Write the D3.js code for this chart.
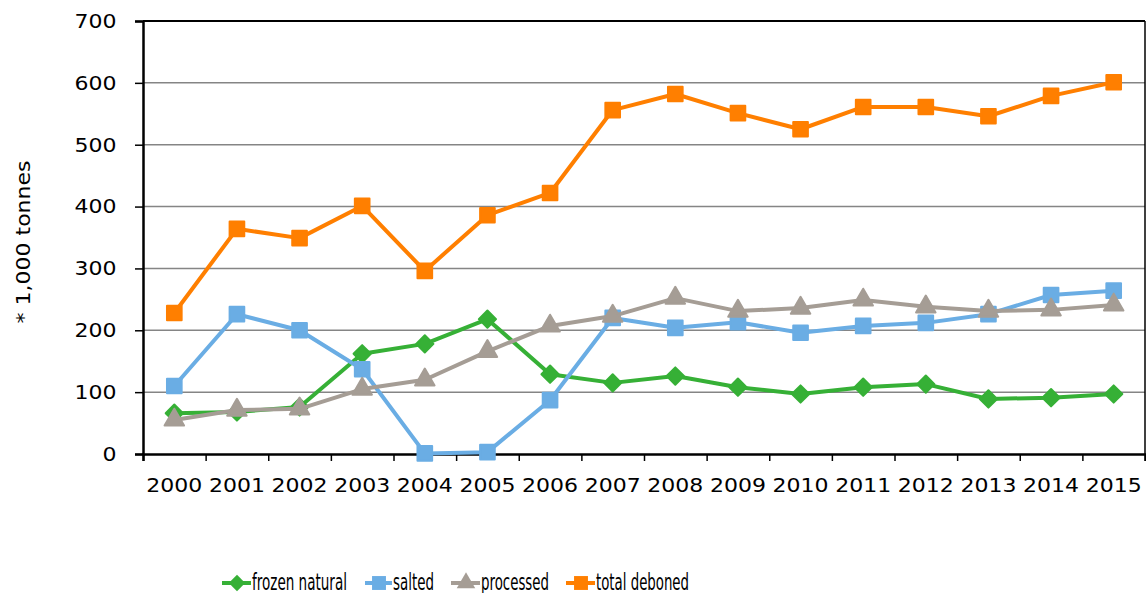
<!DOCTYPE html>
<html>
<head>
<meta charset="utf-8">
<script src="https://cdn.jsdelivr.net/npm/d3@7"></script>
<style>
  body { margin: 0; background: #fff; }
  svg { display: block; font-family: "DejaVu Sans", Verdana, sans-serif; }
</style>
</head>
<body>
<svg id="chart" width="1146" height="593"></svg>
<script>
// chart values
const years = ["2000","2001","2002","2003","2004","2005","2006","2007","2008","2009","2010","2011","2012","2013","2014","2015"];
const frozenNatural = [66, 68, 76, 162, 178, 218, 129, 115, 126, 108, 97, 108, 113, 89, 91, 97];
const salted = [110, 226, 200, 137, 1, 3, 87, 220, 204, 213, 196, 207, 212, 226, 257, 264];
const processed = [55, 71, 73, 105, 120, 166, 207, 223, 252, 231, 236, 249, 238, 231, 233, 241];
const totalDeboned = [228, 364, 349, 401, 296, 386, 422, 556, 582, 551, 525, 561, 561, 546, 579, 601];
const yTicks = [0, 100, 200, 300, 400, 500, 600, 700];
const yLabel = "* 1,000 tonnes";

const seriesList = [
    { name: "frozen natural", values: frozenNatural, color: "#36b036", symbol: d3.symbolDiamond2, size: 190 },
    { name: "salted", values: salted, color: "#6aade4", symbol: d3.symbolSquare, size: 215 },
    { name: "processed", values: processed, color: "#a59d95", symbol: d3.symbolTriangle, size: 165 },
    { name: "total deboned", values: totalDeboned, color: "#ff7f00", symbol: d3.symbolSquare, size: 215 }
];

const svg = d3.select("#chart");
const plotLeft = 143, plotRight = 1145, plotTop = 21, plotBottom = 454;

const x = d3.scaleBand().domain(years).range([plotLeft, plotRight]).padding(0);
const y = d3.scaleLinear().domain([0, 700]).range([plotBottom, plotTop]);
const xEdge = d3.scaleLinear().domain([0, years.length]).range([plotLeft, plotRight]);

// gridlines
svg.append("g")
    .selectAll("line")
    .data(yTicks.filter(v => v > 0))
    .join("line")
    .attr("x1", plotLeft).attr("x2", plotRight)
    .attr("y1", d => y(d)).attr("y2", d => y(d))
    .attr("stroke", d => d === 700 ? "#000" : "#858585")
    .attr("stroke-width", d => d === 700 ? 2 : 1.5);

// right border
svg.append("line")
    .attr("x1", plotRight).attr("x2", plotRight)
    .attr("y1", plotTop).attr("y2", plotBottom)
    .attr("stroke", "#000").attr("stroke-width", 1.5);

// y axis
const yAxis = svg.append("g")
    .attr("transform", `translate(${plotLeft},0)`)
    .call(d3.axisLeft(y).tickValues(yTicks).tickSize(8).tickPadding(16));
yAxis.select(".domain").attr("stroke-width", 2.5);
yAxis.selectAll(".tick line").attr("stroke-width", 1.5);
yAxis.selectAll("text")
    .attr("font-size", 20)
    .attr("fill", "#000")
    .attr("font-family", "DejaVu Sans")
    .attr("transform", "scale(1.1,1)");

// x axis tick marks on category edges
const xTicks = svg.append("g")
    .attr("transform", `translate(0,${plotBottom})`)
    .call(d3.axisBottom(xEdge).ticks(years.length).tickSize(7).tickFormat(""));
xTicks.select(".domain").attr("stroke-width", 2.5);
xTicks.selectAll(".tick line").attr("stroke-width", 1.5);

// x axis labels
const xLabels = svg.append("g")
    .attr("transform", `translate(0,${plotBottom})`)
    .call(d3.axisBottom(x).tickSize(0).tickPadding(24));
xLabels.select(".domain").remove();
xLabels.selectAll("text")
    .attr("font-size", 20)
    .attr("fill", "#000")
    .attr("font-family", "DejaVu Sans")
    .attr("transform", "scale(1.1,1)");

// y axis title
svg.append("text")
    .attr("transform", "translate(30,242) rotate(-90)")
    .attr("text-anchor", "middle")
    .attr("font-size", 20)
    .attr("textLength", 163)
    .attr("lengthAdjust", "spacingAndGlyphs")
    .text(yLabel);

// lines and markers
const line = d3.line()
    .x((d, i) => x(years[i]) + x.bandwidth() / 2)
    .y(d => y(d));

seriesList.forEach(s => {
    const g = svg.append("g");
    g.append("path")
        .datum(s.values)
        .attr("d", line)
        .attr("fill", "none")
        .attr("stroke", s.color)
        .attr("stroke-width", 4)
        .attr("stroke-linejoin", "round");
    g.selectAll("path.marker")
        .data(s.values)
        .join("path")
        .attr("class", "marker")
        .attr("d", d3.symbol().type(s.symbol).size(s.size))
        .attr("transform", (d, i) => `translate(${x(years[i]) + x.bandwidth() / 2},${y(d)})`)
        .attr("fill", s.color)
        .attr("stroke", s.color)
        .attr("stroke-width", 2)
        .attr("stroke-linejoin", "round");
});

// legend
const legendItems = [
    { x0: 222, textX: 252, width: 95 },
    { x0: 365, textX: 393, width: 41 },
    { x0: 451, textX: 481, width: 68 },
    { x0: 566, textX: 596, width: 93 }
];
const legendY = 583;
seriesList.forEach((s, i) => {
    const it = legendItems[i];
    const g = svg.append("g");
    g.append("line")
        .attr("x1", it.x0).attr("x2", it.textX - 1)
        .attr("y1", legendY).attr("y2", legendY)
        .attr("stroke", s.color).attr("stroke-width", 4);
    g.append("path")
        .attr("d", d3.symbol().type(s.symbol).size(s.size * 0.9))
        .attr("transform", `translate(${(it.x0 + it.textX) / 2},${legendY})`)
        .attr("fill", s.color);
    g.append("text")
        .attr("x", it.textX)
        .attr("y", 590)
        .attr("font-size", 23)
        .attr("textLength", it.width)
        .attr("lengthAdjust", "spacingAndGlyphs")
        .text(s.name);
});
</script>
</body>
</html>
